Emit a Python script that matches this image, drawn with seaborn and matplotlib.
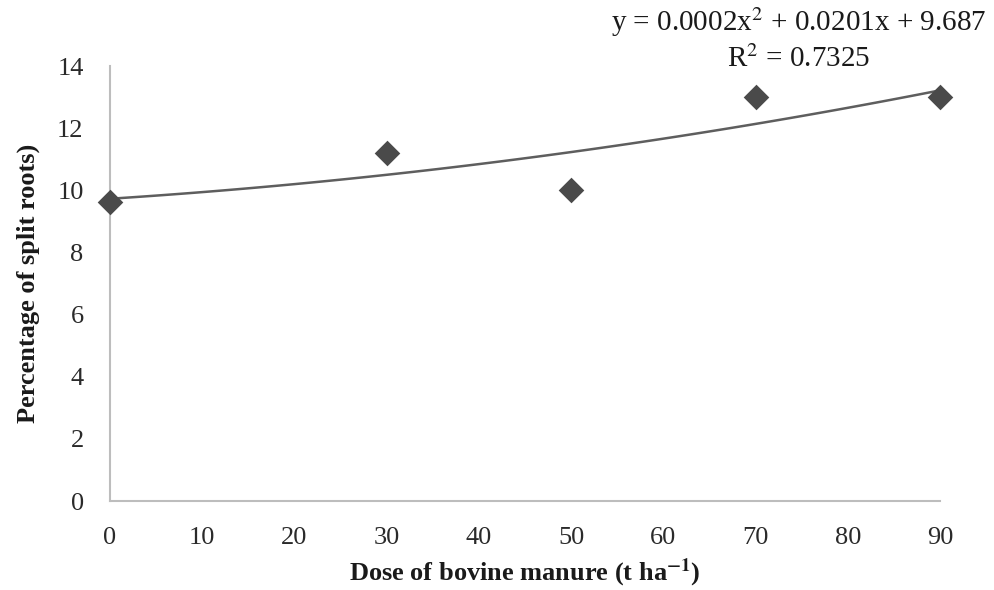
import matplotlib
matplotlib.use("Agg")
import matplotlib.pyplot as plt
import seaborn as sns
import pandas as pd

dose = [0, 30, 50, 70, 90]
split_roots = [9.62, 11.2, 10.0, 13.0, 13.0]
x_ticks = [0, 10, 20, 30, 40, 50, 60, 70, 80, 90]
y_ticks = [0, 2, 4, 6, 8, 10, 12, 14]
equation_text = "y = 0.0002x$^{2}$ + 0.0201x + 9.687"
r2_text = "R$^{2}$ = 0.7325"

df = pd.DataFrame({"dose": dose, "split": split_roots})

sns.set_style("white")
plt.rcParams["font.family"] = ["Liberation Serif", "DejaVu Serif"]
plt.rcParams["mathtext.fontset"] = "stix"

fig = plt.figure(figsize=(9.95, 5.9), dpi=100)
ax = fig.add_axes([0.1106, 0.1508, 0.8341, 0.7372])

sns.regplot(data=df, x="dose", y="split", order=2, ci=None, truncate=True,
            marker="D", ax=ax,
            scatter_kws={"s": 170, "color": "#4a4a4a", "alpha": 1, "zorder": 3,
                         "linewidths": 0, "clip_on": False},
            line_kws={"color": "#5e5e5e", "linewidth": 1.8, "zorder": 2,
                      "clip_on": False})

ax.set_xlim(0, 90)
ax.set_ylim(0, 14)
ax.set_xticks(x_ticks)
ax.set_yticks(y_ticks)
ax.tick_params(axis="both", length=0, labelsize=19, labelcolor="#2a2a2a")
ax.tick_params(axis="x", pad=19)
ax.tick_params(axis="y", pad=19)

for s in ["top", "right"]:
    ax.spines[s].set_visible(False)
for s in ["left", "bottom"]:
    ax.spines[s].set_color("#bdbdbd")
    ax.spines[s].set_linewidth(1.5)

ax.set_xlabel(r"Dose of bovine manure (t ha$^{\mathbf{-1}}$)", fontsize=19,
              fontweight="bold", color="#1a1a1a", labelpad=5)
ax.set_ylabel("Percentage of split roots)", fontsize=19, fontweight="bold",
              color="#1a1a1a", labelpad=12)

fig.text(0.803, 0.962, equation_text, ha="center", va="center", fontsize=21, color="#1a1a1a")
fig.text(0.803, 0.900, r2_text, ha="center", va="center", fontsize=21, color="#1a1a1a")

fig.savefig("out.png", dpi=100)
